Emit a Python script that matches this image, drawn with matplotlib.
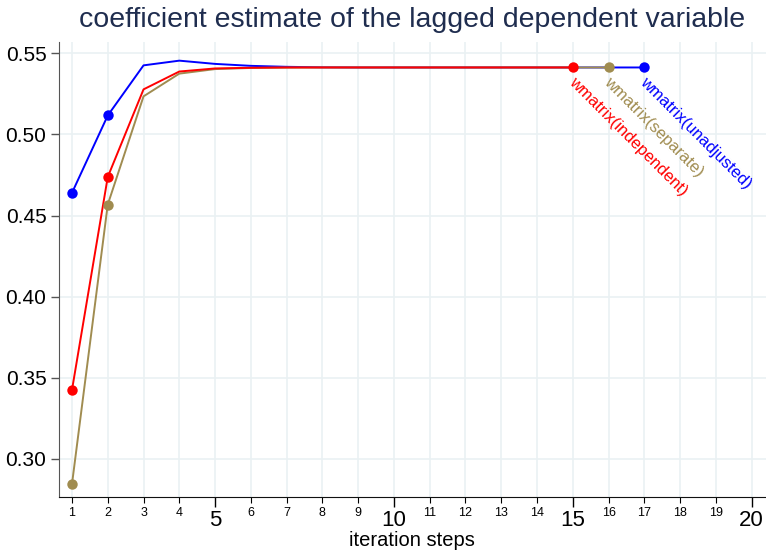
import matplotlib
matplotlib.use("Agg")
import matplotlib.pyplot as plt
from matplotlib.ticker import FixedLocator, FixedFormatter

plt.rcParams['font.family'] = ['Liberation Sans', 'DejaVu Sans']

steps_unadj = [1, 2, 3, 4, 5, 6, 7, 8, 9, 10, 11, 12, 13, 14, 15, 16, 17]
unadjusted = [0.464, 0.5117, 0.5426, 0.5455, 0.5435, 0.5423, 0.5417, 0.5414, 0.5413,
              0.5413, 0.5413, 0.5413, 0.5413, 0.5413, 0.5413, 0.5413, 0.5413]

steps_sep = [1, 2, 3, 4, 5, 6, 7, 8, 9, 10, 11, 12, 13, 14, 15, 16]
separate = [0.2845, 0.4568, 0.5235, 0.5375, 0.5403, 0.5410, 0.5412, 0.5413, 0.5413,
            0.5413, 0.5413, 0.5413, 0.5413, 0.5413, 0.5413, 0.5413]

steps_ind = [1, 2, 3, 4, 5, 6, 7, 8, 9, 10, 11, 12, 13, 14, 15]
independent = [0.3425, 0.4738, 0.5278, 0.5388, 0.5407, 0.5411, 0.5413, 0.5413, 0.5413,
               0.5413, 0.5413, 0.5413, 0.5413, 0.5413, 0.5413]

series = [
    ("wmatrix(independent)", steps_ind, independent, "#FF0000"),
    ("wmatrix(separate)", steps_sep, separate, "#A08C50"),
    ("wmatrix(unadjusted)", steps_unadj, unadjusted, "#0000FF"),
]

y_ticks = [0.30, 0.35, 0.40, 0.45, 0.50, 0.55]
y_labels = ["0.30", "0.35", "0.40", "0.45", "0.50", "0.55"]
x_major = [5, 10, 15, 20]
x_minor = [1, 2, 3, 4, 6, 7, 8, 9, 11, 12, 13, 14, 16, 17, 18, 19]

fig = plt.figure(figsize=(7.66, 5.5), dpi=100)
ax = fig.add_axes([59/766, 53/550, 707/766, 455/550])

grid_c = "#EAF1F3"
for x in range(1, 21):
    ax.axvline(x, color=grid_c, lw=1.2, zorder=0)
for y in y_ticks:
    ax.axhline(y, color=grid_c, lw=1.2, zorder=0)

for name, xs, ys, c in [series[2], series[1], series[0]]:
    ax.plot(xs, ys, color=c, lw=1.4, zorder=3)
for name, xs, ys, c in series:
    mx = [xs[0], xs[1], xs[-1]]
    my = [ys[0], ys[1], ys[-1]]
    ax.plot(mx, my, 'o', color=c, ms=7.5, zorder=4, mec='none')
    ax.annotate(name, xy=(xs[-1], ys[-1]), xytext=(2.5, -5), textcoords='offset points',
                rotation=-45, rotation_mode='anchor', ha='left', va='top',
                color=c, fontsize=12, zorder=5)

ax.set_xlim(0.637, 20.4)
ax.set_ylim(0.2765, 0.557)

ax.set_yticks(y_ticks)
ax.set_yticklabels(y_labels, fontsize=15)
ax.tick_params(axis='y', length=6, width=1, color='#555555', pad=3)

ax.xaxis.set_major_locator(FixedLocator(x_major))
ax.xaxis.set_major_formatter(FixedFormatter([str(v) for v in x_major]))
ax.xaxis.set_minor_locator(FixedLocator(x_minor))
ax.xaxis.set_minor_formatter(FixedFormatter([str(v) for v in x_minor]))
ax.tick_params(axis='x', which='major', length=7, width=1, labelsize=16, pad=2)
ax.tick_params(axis='x', which='minor', length=4, width=0.8, labelsize=9, pad=3)
for lab in ax.xaxis.get_minorticklabels():
    lab.set_family(['Liberation Sans Narrow', 'Liberation Sans'])

for s in ['top', 'right']:
    ax.spines[s].set_visible(False)
ax.spines['left'].set_color('#555555')
ax.spines['bottom'].set_color('#111111')

fig.text(412/766, 1 - 540/550, "iteration steps", ha='center', va='center', fontsize=14.5)
fig.text(412/766, 1 - 20/550, "coefficient estimate of the lagged dependent variable",
         ha='center', va='center', fontsize=20.5, color='#1F2D4F')

fig.savefig("out.png", dpi=100)
